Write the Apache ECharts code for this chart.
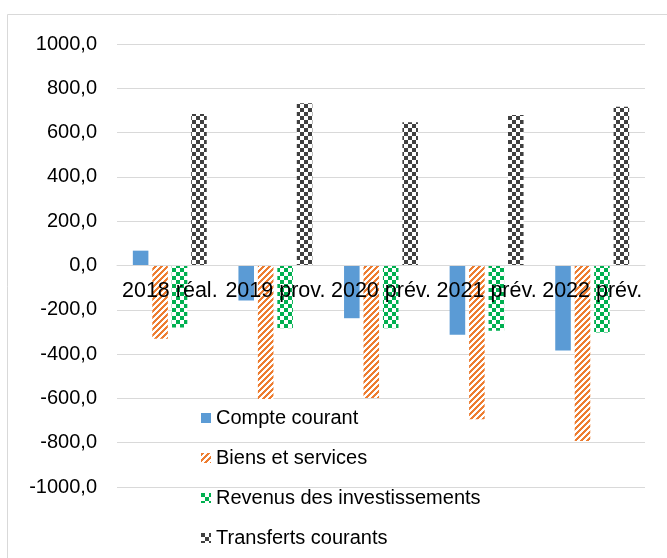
<!DOCTYPE html>
<html><head><meta charset="utf-8">
<script src="https://cdn.jsdelivr.net/npm/echarts@6/dist/echarts.min.js"></script>
<style>html,body{margin:0;padding:0;background:#fff}#c{width:667px;height:558px}</style>
</head><body><div id="c"></div>
<script>
const categories = ['2018 réal.', '2019 prov.', '2020 prév.', '2021 prév.', '2022 prév.'];
const seriesNames = ['Compte courant', 'Biens et services', 'Revenus des investissements', 'Transferts courants'];
const compteCourant = [67, -158, -238, -313, -384];
const biensServices = [-331, -603, -598, -694, -792];
const revenusInvest = [-280, -283, -283, -295, -303];
const transferts = [684, 733, 647, 680, 717];
const yMin = -1000, yMax = 1000, yStep = 200;

const FONT = '"Liberation Sans", Arial, sans-serif';
const GRID = { left: 117, right: 22, top: 44, bottom: 71 };
const H = 558;
// place the category axis on the zero line
const plotH = H - GRID.top - GRID.bottom;
const zeroOffset = -plotH * (0 - yMin) / (yMax - yMin);

function stripe(color, bg, s, w) {
  const c = document.createElement('canvas'); c.width = c.height = s;
  const ctx = c.getContext('2d');
  ctx.fillStyle = bg; ctx.fillRect(0, 0, s, s);
  ctx.fillStyle = color;
  for (let y = 0; y < s; y++) for (let x = 0; x < s; x++) {
    if (((x + y) % s) < w) ctx.fillRect(x, y, 1, 1);
  }
  return c;
}
function checker(color, bg, n) {
  const c = document.createElement('canvas'); c.width = c.height = 2 * n;
  const ctx = c.getContext('2d');
  ctx.fillStyle = bg; ctx.fillRect(0, 0, 2 * n, 2 * n);
  ctx.fillStyle = color;
  ctx.fillRect(0, 0, n, n); ctx.fillRect(n, n, n, n);
  return c;
}
const fills = [
  '#5B9BD5',
  { image: stripe('#ED7D31', '#ffffff', 6, 3), repeat: 'repeat' },
  { image: checker('#00B050', '#ffffff', 4), repeat: 'repeat' },
  { image: checker('#404040', '#ffffff', 4), repeat: 'repeat' }
];
const datas = [compteCourant, biensServices, revenusInvest, transferts];

const chart = echarts.init(document.getElementById('c'), null, { renderer: 'canvas' });
chart.setOption({
  animation: false,
  backgroundColor: '#fff',
  textStyle: { fontFamily: FONT },
  graphic: [{
    type: 'rect', silent: true, z: -10,
    shape: { x: 7.5, y: 14.5, width: 700, height: 600 },
    style: { fill: 'none', stroke: '#d9d9d9', lineWidth: 1 }
  }],
  grid: Object.assign({ containLabel: false }, GRID),
  legend: {
    orient: 'vertical', left: 196, top: 403,
    itemWidth: 10, itemHeight: 10, itemGap: 20, icon: 'rect',
    textStyle: { fontSize: 20, color: '#000', fontFamily: FONT },
    data: seriesNames
  },
  xAxis: {
    type: 'category', data: categories, z: 10,
    position: 'bottom', offset: zeroOffset,
    axisLine: { show: true, onZero: false, lineStyle: { color: '#d9d9d9', width: 1 } },
    axisTick: { show: false },
    axisLabel: { fontSize: 21.5, color: '#000', margin: 15, interval: 0, fontFamily: FONT }
  },
  yAxis: {
    type: 'value', min: yMin, max: yMax, interval: yStep,
    axisLine: { show: false }, axisTick: { show: false },
    splitLine: { lineStyle: { color: '#d9d9d9', width: 1 } },
    axisLabel: { fontSize: 20, color: '#000', margin: 20, fontFamily: FONT,
      formatter: v => v.toFixed(1).replace('.', ',') }
  },
  series: seriesNames.map((n, i) => ({
    name: n, type: 'bar', data: datas[i], z: 2,
    barGap: '25%', barCategoryGap: '30%',
    itemStyle: { color: fills[i] }
  }))
});
</script></body></html>
